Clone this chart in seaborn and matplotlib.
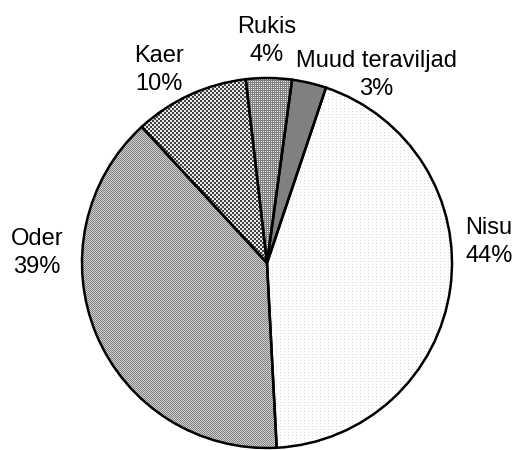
import numpy as np
import matplotlib.pyplot as plt
import seaborn as sns

# ================= DATA =================
categories = ["Nisu", "Oder", "Kaer", "Rukis", "Muud teraviljad"]
shares = [44, 39, 10, 4, 3]
pct_labels = ["44%", "39%", "10%", "4%", "3%"]

# label block centres (pixels from top-left), layout only
label_pos = [(489, 242), (37, 253), (159, 70), (267, 41), (376, 75)]

sns.set_style("white")
plt.rcParams['font.family'] = ['Liberation Sans', 'DejaVu Sans']

W, H = 519, 450
fig = plt.figure(figsize=(W / 100, H / 100), dpi=100)
ax = fig.add_axes([0, 0, 1, 1])

# ================= PATTERNS =================
yy, xx = np.mgrid[0:H, 0:W]
patterns = []
# Nisu: white with sparse light dots
p = np.ones((H, W))
p[(xx % 4 == 0) & (yy % 3 == 0)] = 0.84
patterns.append(p)
# Oder: fine gray checker
patterns.append(np.where((xx + yy) % 2 == 0, 0.5, 0.82))
# Kaer: dark / white checker, 2px cells
patterns.append(np.where((xx // 2 + yy // 2) % 2 == 0, 0.25, 0.92))
# Rukis: grid
patterns.append(np.where((xx % 2 == 0) | (yy % 2 == 0), 0.5, 0.92))
# Muud: solid gray
patterns.append(np.full((H, W), 0.5))

# ================= PIE =================
wedges, _ = ax.pie(
    shares,
    startangle=71.4,
    counterclock=False,
    center=(267, H - 263),
    radius=185,
    colors=["none"] * len(shares),
    wedgeprops=dict(edgecolor="black", linewidth=1.8),
)
for w in wedges:
    w.set_zorder(3)

for w, pat in zip(wedges, patterns):
    im = ax.imshow(pat, cmap="gray", vmin=0, vmax=1, extent=(0, W, 0, H),
                   origin="upper", interpolation="nearest", zorder=1)
    im.set_clip_path(w)

for name, pct, (x, y) in zip(categories, pct_labels, label_pos):
    ax.text(x, H - y, name + "\n" + pct, ha="center", va="center",
            fontsize=17, linespacing=1.35, color="black")

ax.set_xlim(0, W)
ax.set_ylim(0, H)
ax.set_aspect("auto")
ax.set_axis_off()

fig.savefig("out.png", dpi=100)
